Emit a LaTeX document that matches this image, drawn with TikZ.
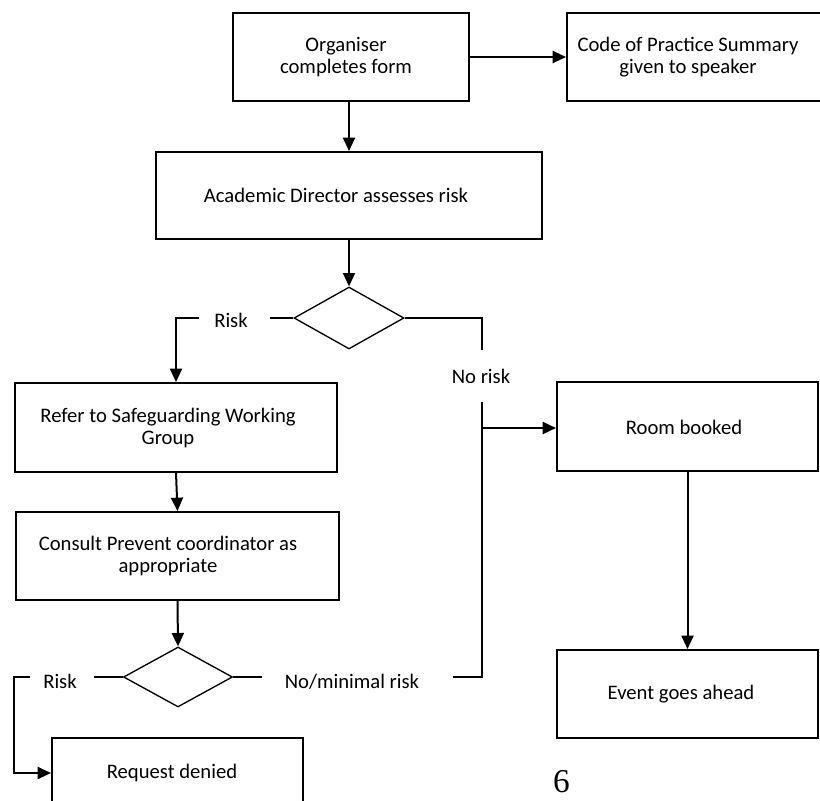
\documentclass[tikz,border=0pt]{standalone}
\usepackage{fontspec}
\setmainfont{Carlito}
\newfontfamily\numfont{Liberation Serif}
\usetikzlibrary{shapes.geometric,arrows.meta}
\begin{document}
\begin{tikzpicture}[x=0.75pt,y=-0.75pt,
  font=\fontsize{15.5}{16.5}\selectfont,
  boxnode/.style={draw,line width=1.5pt,rectangle,inner sep=0pt},
  txt/.style={align=center,inner sep=0pt},
  lbl/.style={inner sep=0pt,anchor=base},
  dia/.style={draw,line width=1pt,diamond,inner sep=0pt},
  conn/.style={line width=1.5pt},
  arr/.style={line width=1.5pt,-{Triangle[length=10pt,width=9pt]}}]
\useasboundingbox[fill=white] (0,0) rectangle (820,800);

% boxes
\node[boxnode,minimum width=177pt,minimum height=66pt] (org) at (351,57) {};
\node[txt] (orgT) at (346,57) {Organiser\\completes form};
\node[boxnode,minimum width=191.25pt,minimum height=66pt] (code) at (694.5,57) {};
\node[txt] (codeT) at (688,57) {Code of Practice Summary\\given to speaker};
\node[boxnode,minimum width=289.5pt,minimum height=65.25pt] (acad) at (349,195.5) {};
\node[txt] (acadT) at (336,195.5) {Academic Director assesses risk};
\node[boxnode,minimum width=241.5pt,minimum height=66.75pt] (refer) at (176,427.5) {};
\node[txt] (referT) at (168,427.5) {Refer to Safeguarding Working\\Group};
\node[boxnode,minimum width=242.25pt,minimum height=66pt] (consult) at (177.5,556) {};
\node[txt] (consultT) at (168,556) {Consult Prevent coordinator as\\appropriate};
\node[boxnode,minimum width=188.25pt,minimum height=52.5pt] (request) at (177.5,773) {};
\node[txt] (requestT) at (172,773) {Request denied};
\node[boxnode,minimum width=195.75pt,minimum height=66.75pt] (room) at (687.5,426.5) {};
\node[txt] (roomT) at (684,427) {Room booked};
\node[boxnode,minimum width=195.75pt,minimum height=66pt] (event) at (687.5,694) {};
\node[txt] (eventT) at (681,694) {Event goes ahead};

% decisions
\node[dia,minimum width=82.5pt,minimum height=46.5pt] (d1) at (349,318) {};
\node[dia,minimum width=81.75pt,minimum height=45pt] (d2) at (178,677) {};

% labels
\node[lbl] (risk1) at (231,327) {Risk};
\node[lbl] (norisk) at (481,383) {No risk};
\node[lbl] (risk2) at (60,688) {Risk};
\node[lbl] (nomin) at (352,688) {No/minimal risk};
\node[inner sep=0pt,anchor=base,font=\numfont\fontsize{25}{27}\selectfont] (pg) at (561.5,792) {6};

% helper coordinates
\coordinate (r1a) at (270,318);
\coordinate (r1b) at (199,318);
\coordinate (nr1) at (482,350);
\coordinate (nr2) at (482,402);
\coordinate (nm1) at (453,677);
\coordinate (j) at (482,428);
\coordinate (r2a) at (94,677);
\coordinate (r2b) at (30,677);
\coordinate (c14) at (14,677);
\coordinate (nm2) at (262,677);

% connectors
\draw[arr] (org.east) -- (code.west);
\draw[arr] (org.south -| acad.north) -- (acad.north);
\draw[arr] (acad.south) -- (d1.north);
\draw[conn] (d1.west) -- (r1a);
\draw[arr] (r1b) -| (refer.north);
\draw[conn] (d1.east) -| (nr1);
\draw[conn] (nr2) |- (nm1);
\draw[arr] (j) -- (j -| room.west);
\draw[arr] (refer.south) -- (consult.north);
\draw[arr] (consult.south) -- (d2.north);
\draw[conn] (d2.west) -- (r2a);
\draw[arr] (r2b) -- (c14) |- (request.west);
\draw[conn] (d2.east) -- (nm2);
\draw[arr] (room.south) -- (event.north);
\end{tikzpicture}
\end{document}
